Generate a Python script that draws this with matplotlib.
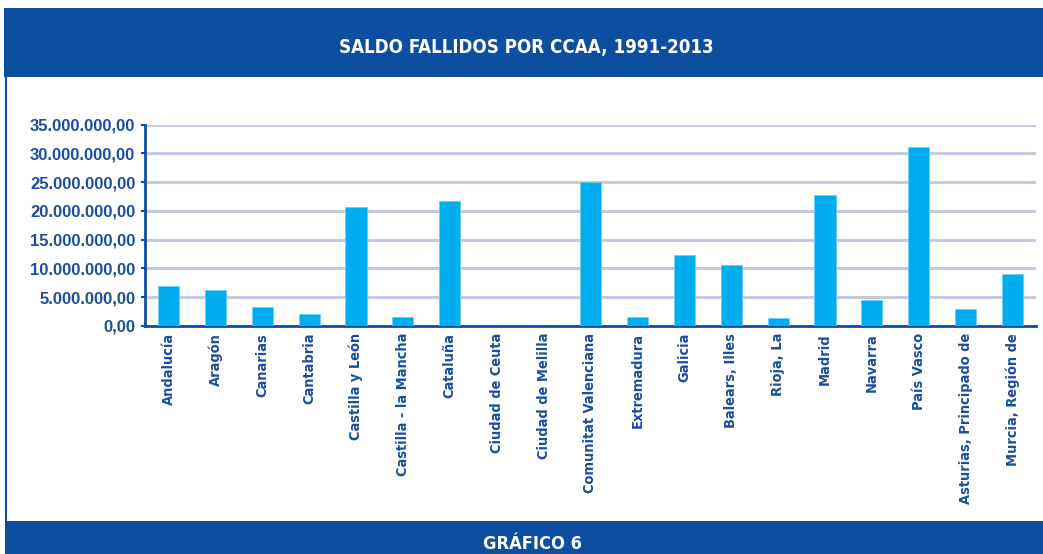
import matplotlib
matplotlib.use("Agg")
import matplotlib.pyplot as plt
from matplotlib.patches import Rectangle
from matplotlib.lines import Line2D
from matplotlib.ticker import FuncFormatter, MultipleLocator
from matplotlib import font_manager as fm
from matplotlib.font_manager import FontProperties

categories = ["Andalucía", "Aragón", "Canarias", "Cantabria", "Castilla y León",
              "Castilla - la Mancha", "Cataluña", "Ciudad de Ceuta", "Ciudad de Melilla",
              "Comunitat Valenciana", "Extremadura", "Galicia", "Balears, Illes",
              "Rioja, La", "Madrid", "Navarra", "País Vasco",
              "Asturias, Principado de", "Murcia, Región de"]
values = [6.9e6, 6.3e6, 3.35e6, 2.1e6, 20.7e6,
          1.6e6, 21.7e6, 0.0, 0.0,
          25.1e6, 1.55e6, 12.3e6, 10.55e6,
          1.47e6, 22.8e6, 4.6e6, 31.05e6,
          3.0e6, 9.1e6]
title = "SALDO FALLIDOS POR CCAA, 1991-2013"
footer = "GRÁFICO 6"

W, H = 1043, 554
fig = plt.figure(figsize=(W / 100, H / 100), dpi=100)
fig.patch.set_facecolor("white")

HEAD_BLUE = "#0D4EA1"
TEXT_BLUE = "#1A4E9E"
BAR = "#00AEEF"
GRID = "#C6C9E2"

# look for a condensed bold face among installed fonts
cond_path = None
best = None
for f in fm.fontManager.ttflist:
    nm = (f.name + " " + f.fname).lower()
    if any(k in nm for k in ("narrow", "condensed", "compressed")):
        w = f.weight if isinstance(f.weight, int) else (700 if "bold" in str(f.weight) else 400)
        if "italic" in nm or "oblique" in nm or f.style != "normal":
            continue
        score = abs(w - 700)
        if best is None or score < best:
            best = score
            cond_path = f.fname

if cond_path:
    narrow_fp = FontProperties(fname=cond_path)
else:
    narrow_fp = FontProperties(family="DejaVu Sans", weight="bold")

sans_fp = FontProperties(family=["Liberation Sans", "DejaVu Sans"], weight="bold", size=12)

def fx(x):
    return x / W

def fy(y):
    return 1 - y / H

renderer = fig.canvas.get_renderer()

def fit(txt, target_w, fs0=12):
    t = fig.text(0, 0, txt, fontproperties=narrow_fp, fontsize=fs0)
    w = t.get_window_extent(renderer).width
    t.remove()
    return fs0 * target_w / w

# header band
fig.add_artist(Rectangle((fx(4), fy(77)), 1 - fx(4), (77 - 8) / H,
                         transform=fig.transFigure, facecolor=HEAD_BLUE,
                         edgecolor="none", zorder=0))
# footer band
fig.add_artist(Rectangle((fx(5), 0), 1 - fx(5), (H - 521) / H,
                         transform=fig.transFigure, facecolor=HEAD_BLUE,
                         edgecolor="none", zorder=0))
# left border line
fig.add_artist(Line2D([fx(6), fx(6)], [fy(77), fy(521)], transform=fig.transFigure,
                      color=HEAD_BLUE, lw=1.5, zorder=0))

title_fs = min(fit(title, 374), 17)
fig.text(fx(526), fy(45.5), title, color="white", fontproperties=narrow_fp,
         fontsize=title_fs, ha="center", va="center_baseline")
foot_fs = min(fit(footer, 99), 17)
fig.text(fx(532.5), fy(542), footer, color="white", fontproperties=narrow_fp,
         fontsize=foot_fs, ha="center", va="center_baseline")

ax = fig.add_axes([fx(145), fy(326), fx(1036) - fx(145), (326 - 124.7) / H])
x = list(range(len(categories)))
ax.bar(x, values, width=0.45, color=BAR, edgecolor="#6FCDF3", linewidth=0.6, zorder=3)
ax.set_xlim(-0.5, len(categories) - 0.5)
ax.set_ylim(0, 35e6)
ax.yaxis.set_major_locator(MultipleLocator(5e6))

def fmt(v, pos):
    s = f"{v:,.2f}"
    return s.replace(",", "X").replace(".", ",").replace("X", ".")

ax.yaxis.set_major_formatter(FuncFormatter(fmt))
ax.grid(axis="y", color=GRID, lw=2.2, zorder=0)
ax.set_axisbelow(True)
for s in ["top", "right"]:
    ax.spines[s].set_visible(False)
for s in ["left", "bottom"]:
    ax.spines[s].set_color(HEAD_BLUE)
    ax.spines[s].set_linewidth(2)

lab_fs = min(fit("Comunitat Valenciana", 160), 13.5)
ax.set_xticks(x)
ax.set_xticklabels(categories, rotation=90, color=TEXT_BLUE)
for lab in ax.get_xticklabels():
    lab.set_fontproperties(narrow_fp)
    lab.set_fontsize(lab_fs)
ax.tick_params(axis="x", length=0, pad=5)
ax.tick_params(axis="y", length=3, width=1.5, color=HEAD_BLUE, pad=4)
for lab in ax.get_yticklabels():
    lab.set_fontproperties(sans_fp)
    lab.set_color(TEXT_BLUE)

fig.savefig("out.png", dpi=100, facecolor="white")
